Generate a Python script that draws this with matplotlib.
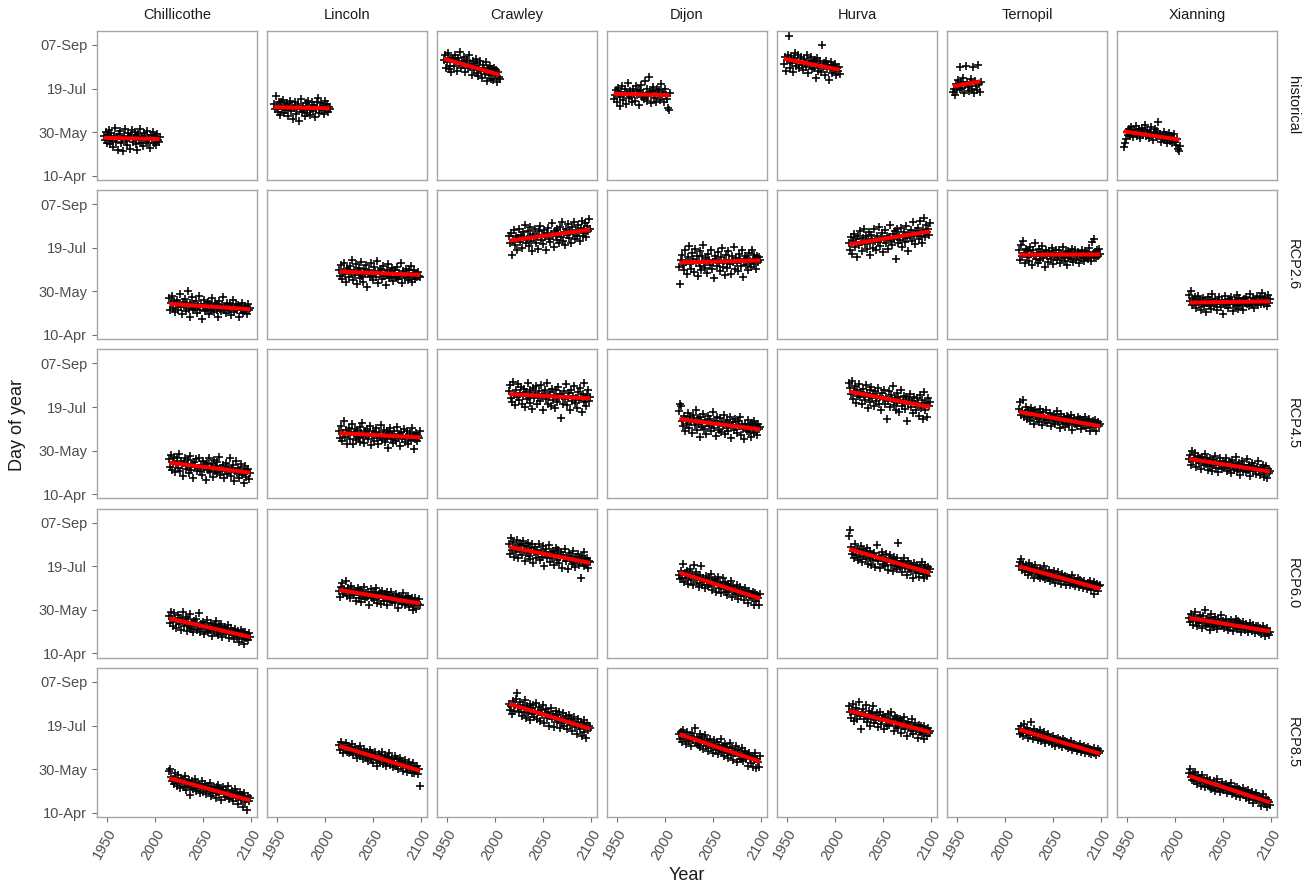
import datetime as dt
import numpy as np
import matplotlib
matplotlib.use("Agg")
import matplotlib.pyplot as plt

plt.rcParams["font.family"] = ["Liberation Sans", "DejaVu Sans"]

sites = ["Chillicothe", "Lincoln", "Crawley", "Dijon", "Hurva", "Ternopil", "Xianning"]
scenarios = ["historical", "RCP2.6", "RCP4.5", "RCP6.0", "RCP8.5"]
hist_start = 1947
ternopil_hist_start = 1946
future_start = 2015

# day of year, one value per year
chillicothe_hist = [145,141,150,138,147,152,136,143,149,140,133,146,155,139,144,130,148,151,137,142,
    128,146,153,140,135,149,144,131,147,152,139,143,150,136,145,129,148,141,153,138,
    144,134,149,146,140,151,137,143,132,147,142,150,138,145,135,148,141,139,144]
lincoln_hist = [182,176,191,179,173,185,180,170,184,177,187,172,181,175,183,168,179,186,174,180,
    165,178,184,171,176,182,163,177,188,173,180,175,169,183,178,172,186,179,170,176,
    184,174,181,167,177,185,189,172,178,183,175,180,171,186,176,182,173,179,177]
crawley_hist = [233,238,224,230,241,222,235,226,219,234,234,226,239,231,220,235,229,242,224,232,
    227,236,219,230,233,223,238,225,228,216,231,221,226,234,218,229,214,224,231,220,
    212,227,222,217,230,209,223,215,226,211,222,210,224,216,221,208,219,213,211]
dijon_hist = [188,192,198,185,201,194,190,180,196,203,187,193,199,182,195,206,189,197,191,184,
    200,194,186,203,192,197,181,198,204,190,195,188,209,193,186,199,191,213,196,183,
    197,202,189,194,185,200,192,198,187,205,191,196,184,199,193,188,178,175,195]
hurva_hist = [228,236,220,233,239,260,231,224,237,229,219,235,241,226,232,238,223,230,236,227,
    221,234,229,225,238,218,231,227,236,222,230,224,233,212,228,235,220,226,232,219,
    250,225,229,216,231,222,227,210,224,230,218,226,221,228,215,223,220,225,217]
ternopil_hist = [196,200,192,205,198,210,203,225,199,207,201,212,195,204,226,208,202,197,206,211,
    200,225,195,209,203,198,227,205,196,208]
xianning_hist = [133,138,142,150,147,153,145,151,156,148,144,152,149,157,146,150,154,143,149,155,
    147,151,158,145,152,148,143,150,156,146,141,149,153,147,144,151,162,145,148,139,
    146,143,150,141,147,138,144,149,140,145,137,143,148,139,135,142,131,128,134]

chillicothe_26 = [142,128,137,145,131,139,126,134,140,129,136,147,132,124,138,133,141,127,135,150,
    130,137,121,134,143,128,136,131,139,125,133,145,129,136,118,132,140,127,134,130,
    138,124,135,129,142,131,126,137,133,128,135,121,139,130,127,134,144,129,132,125,
    137,131,128,135,123,133,140,126,131,136,128,134,120,132,129,137,125,131,127,133,
    130,124,135,128,131]
lincoln_26 = [175,168,180,164,172,183,170,161,177,174,166,179,171,186,163,175,169,181,158,173,
    177,165,172,184,168,161,176,170,180,155,171,174,166,182,169,163,178,172,167,185,
    160,173,170,176,164,179,168,171,157,175,169,181,165,172,167,177,162,170,174,166,
    178,164,171,168,182,160,173,169,165,176,170,163,174,167,179,161,171,168,175,164,
    170,166,172,168,167]
crawley_26 = [213,206,217,192,209,220,203,214,198,211,222,207,215,200,218,212,226,205,210,219,
    202,214,224,208,196,216,211,221,206,213,199,219,225,209,215,204,220,212,198,217,
    223,210,207,216,228,213,201,219,214,222,209,217,205,224,212,229,208,218,203,221,
    215,227,211,219,206,224,216,230,210,220,213,226,218,208,223,231,214,221,217,228,
    212,225,219,233,222]
dijon_26 = [178,158,186,192,180,175,197,184,170,189,202,181,176,194,187,172,199,183,190,168,
    185,196,179,174,191,203,182,177,188,171,193,186,180,198,176,184,165,190,187,179,
    195,182,173,189,200,178,185,169,192,183,177,196,186,181,170,191,184,201,176,188,
    182,173,193,187,179,197,166,185,190,180,188,175,194,183,178,198,186,181,192,187,
    176,190,184,189,186]
hurva_26 = [205,198,212,193,208,216,201,210,189,214,203,219,207,196,211,222,204,213,199,209,
    218,192,206,215,210,200,221,208,197,213,207,224,202,211,217,195,209,220,205,214,
    199,212,226,208,203,216,210,219,187,213,221,206,215,209,223,201,212,218,207,225,
    211,196,217,214,220,208,229,213,204,219,216,223,210,231,214,206,220,234,217,212,
    226,218,222,215,228]
ternopil_26 = [198,186,203,191,208,194,183,199,189,196,185,201,193,180,197,190,205,187,194,182,
    199,191,186,195,202,188,193,178,197,190,184,196,192,187,200,181,194,189,198,186,
    191,197,183,193,188,201,190,185,195,192,180,196,189,194,187,199,184,192,197,186,
    190,195,182,193,188,198,191,185,196,189,194,187,200,192,185,207,193,189,210,195,
    188,197,191,199,193]
xianning_26 = [146,139,150,134,141,137,143,131,138,145,135,140,128,136,142,133,139,126,137,144,
    134,140,136,130,147,138,133,141,135,129,139,143,136,132,140,124,137,145,134,138,
    131,141,136,143,139,127,135,140,133,146,137,130,142,136,139,134,128,141,137,144,
    135,139,133,147,138,136,142,131,140,137,145,134,139,143,136,148,138,141,135,144,
    139,133,146,137,141]

chillicothe_45 = [140,131,145,128,137,143,125,135,141,130,146,127,138,133,121,136,142,129,134,139,
    124,131,144,128,135,119,137,132,140,126,130,142,127,134,122,138,129,133,116,136,
    128,141,125,131,135,120,139,127,132,124,137,129,143,122,130,126,134,118,128,136,
    123,131,127,141,121,129,133,115,126,138,124,130,119,128,135,122,127,113,125,132,
    120,126,129,117,124]
lincoln_45 = [172,165,178,161,170,184,166,174,158,169,176,163,171,180,157,168,175,162,173,167,
    164,177,160,170,182,166,159,172,168,175,163,169,178,156,167,173,161,170,176,164,
    158,171,166,179,162,168,174,160,167,172,165,153,170,176,163,168,159,173,166,161,
    177,164,169,155,171,163,167,175,160,166,172,158,165,170,162,176,164,152,168,163,
    170,161,167,165,172]
crawley_45 = [218,225,210,206,229,214,202,220,211,226,208,216,223,204,213,221,200,217,209,227,
    212,205,219,214,198,222,210,216,224,203,211,218,207,225,213,196,215,220,209,228,
    204,212,217,201,221,208,214,199,219,211,206,223,210,215,187,213,204,218,209,226,
    202,211,216,197,220,207,213,224,205,210,199,217,208,222,212,194,215,206,227,209,
    201,214,219,207,212]
dijon_45 = [195,203,201,184,178,190,172,186,180,193,176,188,183,170,191,185,179,196,174,187,
    181,166,189,183,177,192,175,185,169,182,190,178,186,173,181,194,176,184,167,188,
    180,174,187,171,183,178,191,169,182,176,185,172,180,188,165,179,183,174,186,177,
    170,184,178,189,168,181,175,163,180,177,173,185,171,179,166,182,176,170,184,174,
    179,168,181,175,177]
hurva_45 = [228,222,215,230,209,218,224,205,220,213,226,211,217,203,221,214,208,225,216,199,
    212,219,206,223,210,215,201,218,207,213,222,204,211,196,216,209,220,203,212,186,
    207,218,200,214,209,224,202,210,197,216,205,212,194,208,219,201,206,213,198,211,
    184,204,209,215,200,207,193,212,203,196,210,205,190,214,199,208,186,203,217,197,
    205,188,210,201,206]
ternopil_45 = [198,206,191,195,208,188,193,200,186,196,192,184,199,189,195,181,197,190,186,193,
    183,198,188,191,179,194,187,185,196,182,190,186,193,178,188,184,191,180,189,195,
    183,187,176,192,185,181,189,177,186,190,182,188,179,185,191,174,184,187,180,183,
    178,189,182,186,175,181,185,179,188,176,183,180,186,173,182,178,184,177,181,185,
    172,180,183,178,181]
xianning_45 = [140,145,134,150,138,142,147,131,139,144,136,141,129,143,137,133,146,135,140,128,
    138,132,142,136,127,139,134,144,130,137,125,135,141,133,129,138,131,136,142,126,
    134,130,137,124,139,132,128,135,143,127,133,129,136,122,131,138,127,134,130,125,
    140,128,133,121,130,136,126,132,129,123,131,138,127,122,130,126,134,120,128,125,
    132,118,129,124,127]

chillicothe_60 = [143,135,148,139,132,146,140,129,137,144,134,141,127,138,147,131,136,142,126,139,
    133,130,145,128,135,124,137,132,140,127,131,146,125,134,129,136,122,133,128,138,
    124,132,127,135,120,130,126,133,137,123,129,121,131,126,134,119,128,124,130,122,
    127,133,118,125,129,121,126,116,128,123,119,126,113,122,127,117,124,120,111,125,
    118,121,115,123,119]
lincoln_60 = [172,165,176,181,168,174,170,183,166,175,171,163,177,169,173,167,172,160,170,175,
    164,168,173,159,170,166,176,162,169,165,171,156,167,174,163,168,161,170,175,158,
    166,163,169,157,172,164,160,168,165,171,155,163,167,161,170,159,165,162,158,168,
    163,152,166,160,164,157,169,161,155,163,159,166,153,162,158,164,150,160,156,163,
    151,159,157,162,155]
crawley_60 = [225,214,233,219,228,211,222,216,230,209,224,217,226,213,229,220,206,223,215,227,
    212,221,208,218,225,204,216,222,210,219,214,226,207,217,211,223,200,215,220,209,
    213,224,205,216,210,218,202,214,221,207,212,219,204,211,216,198,213,209,220,206,
    210,197,215,208,212,203,217,205,199,211,207,214,201,209,186,212,204,216,200,208,
    203,210,198,206,205]
dijon_60 = [190,185,195,187,203,182,192,186,194,180,189,197,184,191,178,202,186,193,181,188,
    176,190,184,200,179,187,182,175,189,183,177,186,180,191,173,184,178,185,170,182,
    188,175,181,169,179,186,174,182,171,178,167,180,173,176,183,165,177,171,174,168,
    179,162,172,176,166,173,169,161,175,167,170,158,172,165,168,163,171,156,166,169,
    160,167,164,155,168]
hurva_60 = [235,242,222,214,218,209,226,213,220,207,217,211,223,205,219,212,216,208,221,203,
    214,210,218,201,213,207,215,199,211,224,206,212,198,209,216,203,210,200,214,205,
    196,208,213,202,207,194,211,200,205,209,197,227,203,199,206,193,204,210,198,201,
    190,206,197,203,195,200,187,204,198,192,202,196,188,200,194,205,191,198,186,201,
    195,189,199,193,197]
ternopil_60 = [200,205,208,196,203,199,193,201,197,190,204,195,199,192,198,187,202,194,196,189,
    191,198,186,195,193,188,200,185,194,190,187,196,183,192,189,185,194,181,190,187,
    193,184,188,180,191,186,183,189,179,185,188,182,186,178,184,190,180,185,177,183,
    181,187,176,184,179,182,175,183,178,180,174,181,177,183,173,179,176,182,168,178,
    175,180,172,177,179]
xianning_60 = [141,136,145,139,133,142,148,137,131,140,135,144,138,129,143,136,150,132,139,134,
    141,127,137,145,133,138,130,142,135,128,139,133,136,144,131,137,129,135,140,132,
    127,136,130,138,134,126,135,131,139,128,133,137,129,135,125,132,136,130,127,134,
    131,124,130,135,128,126,133,129,123,131,127,132,125,129,122,128,131,124,127,120,
    126,129,123,121,125]

chillicothe_85 = [148,150,141,136,139,133,145,137,131,143,135,128,140,134,137,130,142,126,135,132,
    138,120,133,129,136,127,131,139,125,134,128,132,122,130,136,124,129,133,121,127,
    131,125,134,119,128,123,130,126,117,129,124,132,121,127,115,125,129,122,118,126,
    120,131,116,123,119,125,113,121,127,117,122,110,119,124,114,120,107,118,123,112,
    116,103,119,113,117]
lincoln_85 = [178,172,181,175,169,177,173,180,170,176,168,174,171,179,166,172,175,169,163,173,
    170,176,165,171,167,162,173,168,164,170,159,166,172,161,168,157,165,170,163,154,
    160,167,158,164,170,156,162,166,153,161,157,164,168,155,160,163,152,158,165,154,
    161,150,157,163,153,159,148,156,160,151,147,155,158,149,153,145,157,150,146,152,
    148,154,144,150,131]
crawley_85 = [225,218,222,213,228,217,224,230,237,221,215,227,219,211,224,216,229,209,222,214,
    218,225,206,220,213,223,210,217,226,208,215,221,205,218,212,224,203,214,219,209,
    216,200,211,220,207,213,198,210,217,204,212,206,215,197,209,203,214,199,207,211,
    196,205,212,201,208,194,204,210,198,202,190,207,200,196,204,188,201,206,193,199,
    186,203,195,200,197]
dijon_85 = [190,184,192,181,195,186,189,179,193,185,182,188,176,191,183,187,197,180,186,178,
    184,190,175,182,187,173,181,189,177,183,171,180,185,174,179,169,183,176,172,181,
    167,178,173,184,170,176,165,179,172,168,175,163,171,180,166,174,160,170,168,176,
    158,172,165,169,162,174,159,167,171,161,166,154,168,163,157,165,152,164,160,169,
    151,162,158,152,165]
hurva_85 = [222,215,209,218,225,205,213,220,208,216,227,211,196,214,219,207,212,223,204,210,
    217,200,213,208,215,222,203,211,206,214,198,209,216,202,207,212,196,210,205,199,
    213,201,208,215,203,206,194,211,200,204,209,197,203,207,191,205,199,210,196,202,
    188,204,198,201,194,207,190,199,203,195,197,186,201,193,199,190,196,184,200,192,
    195,188,197,191,194]
ternopil_85 = [196,190,199,193,188,202,195,191,197,186,194,189,204,192,185,196,190,187,193,183,
    191,188,195,182,189,186,192,180,187,184,190,181,186,183,179,188,185,177,184,181,
    186,178,183,180,175,184,179,182,176,181,178,174,180,176,182,172,177,179,174,178,
    171,176,173,179,170,175,172,177,168,174,171,175,169,173,167,172,170,174,168,171,
    166,170,173,168,171]
xianning_85 = [146,150,141,138,144,136,147,139,133,142,137,140,131,143,135,138,129,136,140,132,
    134,130,137,127,133,129,136,125,131,139,128,132,124,130,135,126,129,127,133,122,
    128,131,125,134,121,127,124,130,119,126,129,122,127,118,125,123,128,120,124,117,
    122,126,114,121,119,124,111,120,117,123,115,119,113,118,108,116,121,112,115,110,
    117,106,114,112,109]

rows = [
    [chillicothe_hist, lincoln_hist, crawley_hist, dijon_hist, hurva_hist, ternopil_hist, xianning_hist],
    [chillicothe_26, lincoln_26, crawley_26, dijon_26, hurva_26, ternopil_26, xianning_26],
    [chillicothe_45, lincoln_45, crawley_45, dijon_45, hurva_45, ternopil_45, xianning_45],
    [chillicothe_60, lincoln_60, crawley_60, dijon_60, hurva_60, ternopil_60, xianning_60],
    [chillicothe_85, lincoln_85, crawley_85, dijon_85, hurva_85, ternopil_85, xianning_85],
]

yticks = [100, 150, 200, 250]
xticks = [1950, 2000, 2050, 2100]


def doy_label(d):
    return (dt.date(2001, 1, 1) + dt.timedelta(days=d - 1)).strftime("%d-%b")


W, H = 1312, 888
fig = plt.figure(figsize=(W / 100, H / 100), dpi=100)

# panel geometry in pixels
left0, top0 = 97, 31
pw, ph = 160, 149
gx, gy = 10, 10.25
grey_txt = "#4d4d4d"

for r, scen in enumerate(scenarios):
    for c, site in enumerate(sites):
        x0 = left0 + c * (pw + gx)
        y0 = top0 + r * (ph + gy)
        ax = fig.add_axes([x0 / W, 1 - (y0 + ph) / H, pw / W, ph / H])
        vals = np.array(rows[r][c])
        if r == 0:
            start = ternopil_hist_start if site == "Ternopil" else hist_start
        else:
            start = future_start
        yrs = np.arange(start, start + len(vals))
        ax.plot(yrs, vals, "+", color="black", ms=5.5, mew=1.15, zorder=2)
        k, b = np.polyfit(yrs, vals, 1)
        xl = np.array([yrs[0], yrs[-1]])
        ax.plot(xl, k * xl + b, color="red", lw=2.9, solid_capstyle="butt", zorder=3)

        ax.set_xlim(1940, 2106)
        ax.set_ylim(95, 266)
        ax.set_xticks(xticks)
        ax.set_yticks(yticks)
        for s in ax.spines.values():
            s.set_color("#a6a6a6")
            s.set_linewidth(1.0)
        ax.tick_params(length=3.5, width=0.8, color="#6e6e6e", labelcolor=grey_txt, labelsize=10.5)
        if c == 0:
            ax.set_yticklabels([doy_label(d) for d in yticks])
        else:
            ax.tick_params(axis="y", left=False, labelleft=False)
        if r == len(scenarios) - 1:
            ax.set_xticklabels([str(t) for t in xticks], rotation=60, ha="right",
                               va="top", rotation_mode="anchor")
        else:
            ax.tick_params(axis="x", bottom=False, labelbottom=False)

        if r == 0:
            ax.text(0.5, 1 + 16 / ph, site, transform=ax.transAxes, ha="center", va="center",
                    fontsize=10.5, color="#1a1a1a")
        if c == len(sites) - 1:
            ax.text(1 + 16 / pw, 0.5, scen, transform=ax.transAxes, ha="center", va="center",
                    rotation=-90, fontsize=10.5, color="#1a1a1a")

fig.text(687 / W, 1 - 875 / H, "Year", ha="center", va="center", fontsize=13, color="#1a1a1a")
fig.text(18 / W, 1 - 425 / H, "Day of year", ha="center", va="center", rotation=90,
         fontsize=13, color="#1a1a1a")

fig.savefig("out.png", dpi=100, facecolor="white")
